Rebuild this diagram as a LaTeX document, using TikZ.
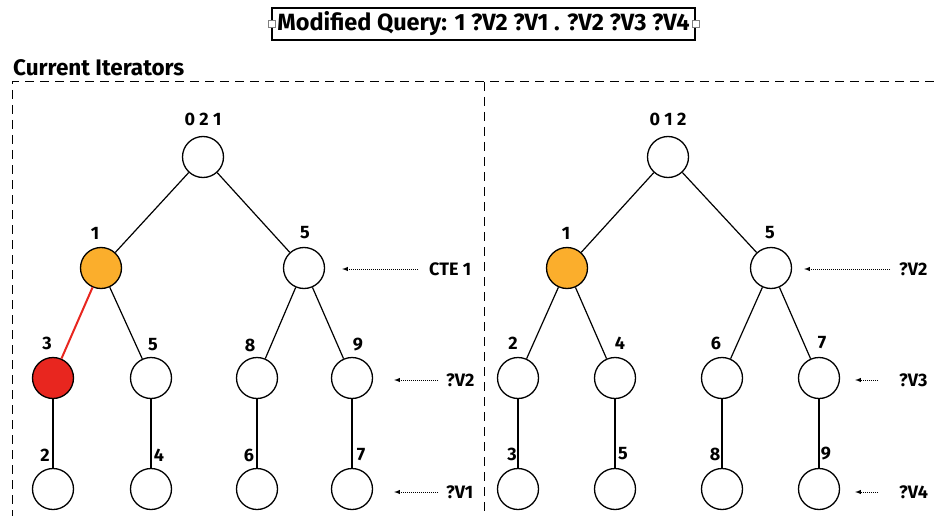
\documentclass[tikz,border=0pt]{standalone}
\usepackage{fontspec}
\setmainfont{Fira Sans}
\definecolor{iterorange}{HTML}{FBAE2C}
\definecolor{iterred}{HTML}{E8261F}
\begin{document}
\begin{tikzpicture}[x=1pt,y=-1pt,
  vtx/.style={circle,draw=black,line width=1.3pt,fill=white,minimum size=41pt,inner sep=0pt},
  hot/.style={vtx,fill=iterorange},
  cur/.style={vtx,fill=iterred},
  edge/.style={line width=1.2pt},
  redge/.style={line width=2pt,draw=iterred},
  lbl/.style={font=\fontsize{18}{18}\selectfont\bfseries,inner sep=0pt},
  tag/.style={font=\fontsize{18}{18}\selectfont\bfseries,inner sep=0pt},
  ptr/.style={densely dotted,line width=1pt,-latex},
  frame/.style={line width=1pt,dash pattern=on 9pt off 6pt},
  handle/.style={draw=gray,fill=white,line width=0.6pt,minimum size=7pt,inner sep=0pt}]
\useasboundingbox (0,0) rectangle (934,516);

% heading
\node[draw,line width=1.1pt,minimum width=423pt,minimum height=32pt,inner sep=0pt,
  font=\fontsize{23.5}{23.5}\selectfont\bfseries] (title) at (483.5,24) {Modified Query: 1 ?V2 ?V1 . ?V2 ?V3 ?V4};
\node[handle] (hl) at (title.west) {};
\node[handle] (hr) at (title.east) {};

\node[anchor=west,inner sep=0pt,font=\fontsize{22.5}{22.5}\selectfont\bfseries] (cap) at (13,68) {Current Iterators};

% dashed frame
\coordinate (fa) at (12,82);
\coordinate (fb) at (934,82);
\coordinate (fc) at (12,516);
\coordinate (fd) at (484,82);
\coordinate (fe) at (484,516);
\draw[frame] (fb) -- (fa) -- (fc);
\draw[frame] (fd) -- (fe);

% left tree
\node[vtx] (a0) at (203,157) {};
\node[hot] (a1) at (101,268) {};
\node[vtx] (a2) at (304,268) {};
\node[cur] (a3) at (53,378) {};
\node[vtx] (a4) at (151,378) {};
\node[vtx] (a5) at (257,378) {};
\node[vtx] (a6) at (352,378) {};
\node[vtx] (a7) at (53,489) {};
\node[vtx] (a8) at (151,489) {};
\node[vtx] (a9) at (257,489) {};
\node[vtx] (a10) at (352,489) {};
\draw[edge] (a0) -- (a1);
\draw[edge] (a0) -- (a2);
\draw[redge] (a1) -- (a3);
\draw[edge] (a1) -- (a4);
\draw[edge] (a2) -- (a5);
\draw[edge] (a2) -- (a6);
\draw[edge] (a3) -- (a7);
\draw[edge] (a4) -- (a8);
\draw[edge] (a5) -- (a9);
\draw[edge] (a6) -- (a10);
\node[lbl] (la0) at (203,119) {0 2 1};
\node[lbl] (la1) at (95,233) {1};
\node[lbl] (la2) at (305,233) {5};
\node[lbl] (la3) at (47,343) {3};
\node[lbl] (la4) at (153,345) {5};
\node[lbl] (la5) at (250,345) {8};
\node[lbl] (la6) at (358,345) {9};
\node[lbl] (la7) at (45,455) {2};
\node[lbl] (la8) at (159,455) {4};
\node[lbl] (la9) at (249,455) {6};
\node[lbl] (la10) at (361,455) {7};

\node[tag,anchor=west] (t1) at (429,269) {CTE 1};
\node[tag,anchor=west] (t2) at (446,380) {?V2};
\node[tag,anchor=west] (t3) at (446,492) {?V1};
\coordinate (p1) at (418,269);
\coordinate (p2) at (438,380);
\coordinate (p3) at (438,492);
\draw[ptr] (p1) -- ([xshift=17pt]a2.east |- p1);
\draw[ptr] (p2) -- ([xshift=21pt]a6.east |- p2);
\draw[ptr] (p3) -- ([xshift=21pt]a10.east |- p3);

% right tree
\node[vtx] (b0) at (668,157) {};
\node[hot] (b1) at (567,268) {};
\node[vtx] (b2) at (771,268) {};
\node[vtx] (b3) at (518,378) {};
\node[vtx] (b4) at (615,378) {};
\node[vtx] (b5) at (722,378) {};
\node[vtx] (b6) at (819,378) {};
\node[vtx] (b7) at (518,489) {};
\node[vtx] (b8) at (615,489) {};
\node[vtx] (b9) at (722,489) {};
\node[vtx] (b10) at (819,489) {};
\draw[edge] (b0) -- (b1);
\draw[edge] (b0) -- (b2);
\draw[edge] (b1) -- (b3);
\draw[edge] (b1) -- (b4);
\draw[edge] (b2) -- (b5);
\draw[edge] (b2) -- (b6);
\draw[edge] (b3) -- (b7);
\draw[edge] (b4) -- (b8);
\draw[edge] (b5) -- (b9);
\draw[edge] (b6) -- (b10);
\node[lbl] (lb0) at (668,119) {0 1 2};
\node[lbl] (lb1) at (566,233) {1};
\node[lbl] (lb2) at (770,233) {5};
\node[lbl] (lb3) at (513,343) {2};
\node[lbl] (lb4) at (620,343) {4};
\node[lbl] (lb5) at (716,343) {6};
\node[lbl] (lb6) at (822,343) {7};
\node[lbl] (lb7) at (512,454) {3};
\node[lbl] (lb8) at (623,454) {5};
\node[lbl] (lb9) at (715,454) {8};
\node[lbl] (lb10) at (826,454) {9};

\node[tag,anchor=west] (u1) at (899,269) {?V2};
\node[tag,anchor=west] (u2) at (899,380) {?V3};
\node[tag,anchor=west] (u3) at (899,492) {?V4};
\coordinate (q1) at (890,269);
\coordinate (q2) at (878,380);
\coordinate (q3) at (878,492);
\draw[ptr] (q1) -- ([xshift=12pt]b2.east |- q1);
\draw[ptr] (q2) -- ([xshift=15pt]b6.east |- q2);
\draw[ptr] (q3) -- ([xshift=15pt]b10.east |- q3);
\end{tikzpicture}
\end{document}
